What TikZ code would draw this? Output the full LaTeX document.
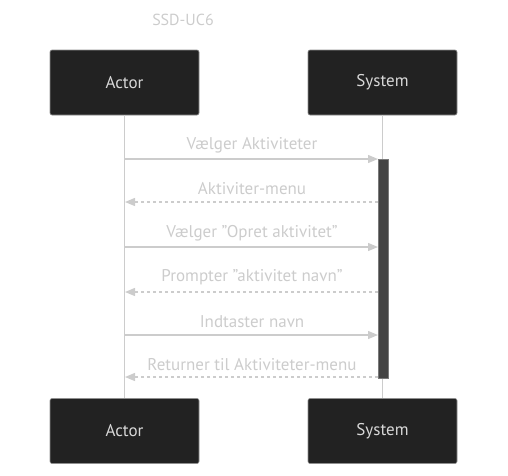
\documentclass[tikz,border=0pt]{standalone}
\usepackage{fontspec}
\setmainfont{PT Sans}
\usetikzlibrary{arrows.meta}
\definecolor{boxfill}{HTML}{222222}
\definecolor{boxtext}{HTML}{D8D8D8}
\definecolor{linec}{HTML}{CCCCCC}
\definecolor{labelc}{HTML}{CCCCCC}
\definecolor{actfill}{HTML}{444444}
\tikzset{
  actorbox/.style={draw=linec!70!black, line width=0.6pt, fill=boxfill, rounded corners=2pt,
    minimum width=149pt, minimum height=65pt, text=boxtext, font=\fontsize{17}{19}\selectfont, inner sep=0pt},
  lifeline/.style={draw=linec, line width=1.3pt},
  msg/.style={draw=linec, line width=1.3pt, -{Triangle[length=10pt,width=8pt]}},
  reply/.style={msg, dash pattern=on 3pt off 3pt},
  msglabel/.style={text=labelc, font=\fontsize{17}{19}\selectfont, inner sep=0pt},
}
\begin{document}
\begin{tikzpicture}[x=1pt,y=-1pt]
\useasboundingbox (0,0) rectangle (508,475);
\node[text=labelc, font=\fontsize{16}{18}\selectfont] (title) at (183,20) {SSD-UC6};
\node[actorbox] (a1) at (124.5,82.5) {Actor};
\node[actorbox] (s1) at (382.5,82.5) {System};
\node[actorbox] (a2) at (124.5,431) {Actor};
\node[actorbox] (s2) at (382.5,431) {System};
\draw[lifeline] (a1.south) -- (a2.north);
\draw[lifeline] (s1.south) -- (s2.north);
\node[draw=linec!60!black, line width=0.6pt, fill=actfill, minimum width=10pt, minimum height=219pt, inner sep=0pt] (act) at (383,268.5) {};
\coordinate (p1a) at (125,159); \coordinate (p1s) at (378,159);
\coordinate (p2a) at (125,202); \coordinate (p2s) at (378,202);
\coordinate (p3a) at (125,247); \coordinate (p3s) at (378,247);
\coordinate (p4a) at (125,292); \coordinate (p4s) at (378,292);
\coordinate (p5a) at (125,335); \coordinate (p5s) at (378,335);
\coordinate (p6a) at (125,377); \coordinate (p6s) at (378,377);
\draw[msg] (p1a) -- (p1s);
\draw[reply] (p2s) -- (p2a);
\draw[msg] (p3a) -- (p3s);
\draw[reply] (p4s) -- (p4a);
\draw[msg] (p5a) -- (p5s);
\draw[reply] (p6s) -- (p6a);
\node[msglabel] (l1) at (252,145) {Vælger Aktiviteter};
\node[msglabel] (l2) at (252,189) {Aktiviter-menu};
\node[msglabel] (l3) at (252,233) {Vælger \char"22 Opret aktivitet\char"22};
\node[msglabel] (l4) at (252,277) {Prompter \char"22 aktivitet navn\char"22};
\node[msglabel] (l5) at (252,322) {Indtaster navn};
\node[msglabel] (l6) at (252,365) {Returner til Aktiviteter-menu};
\end{tikzpicture}
\end{document}
